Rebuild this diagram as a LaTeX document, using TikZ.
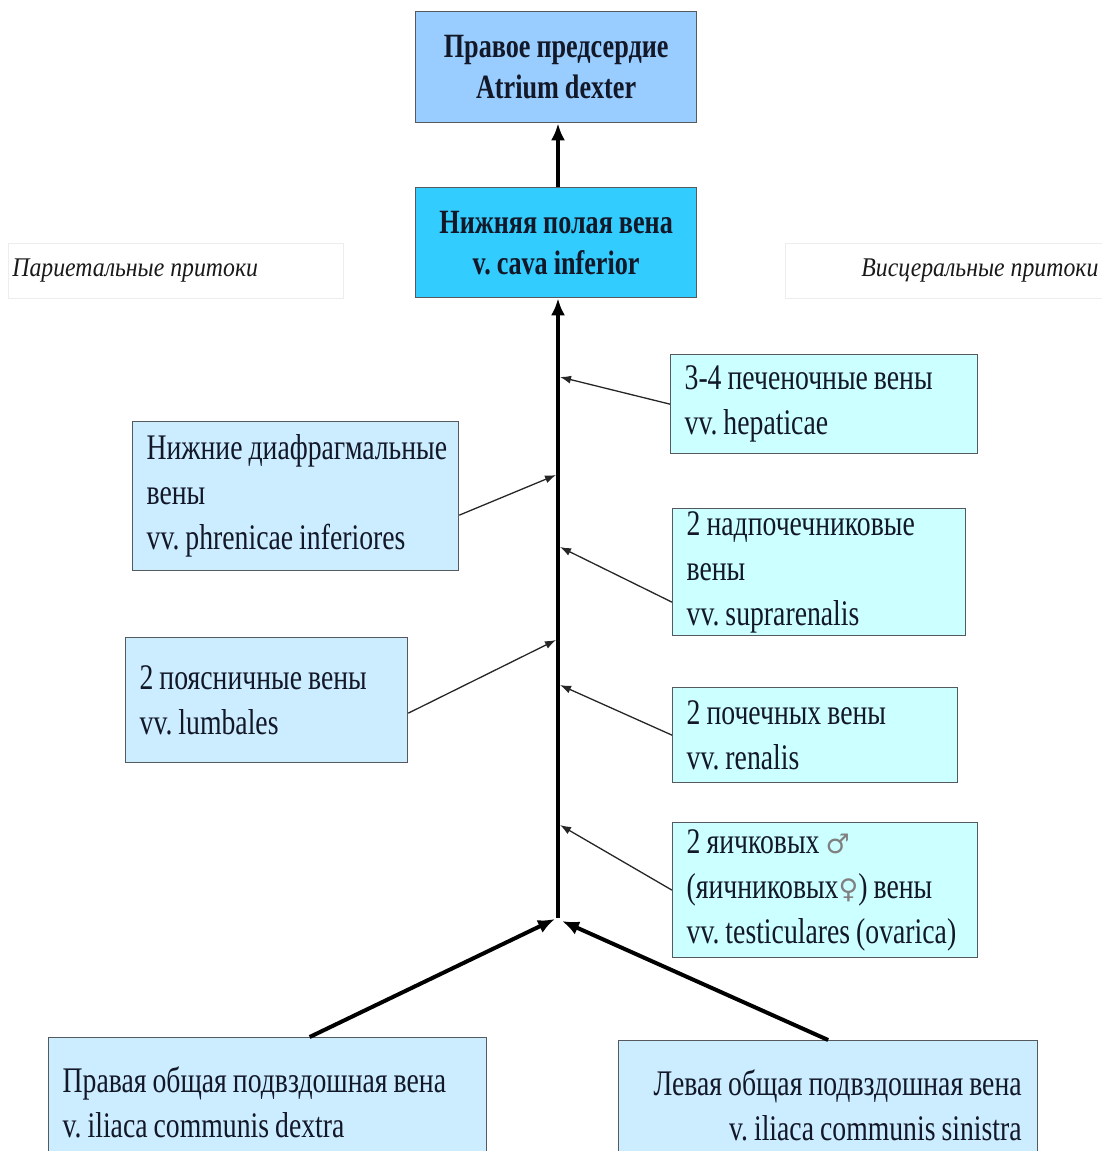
\documentclass[tikz,border=0pt]{standalone}
\usepackage{fontspec}
\setmainfont{Liberation Serif}
\newfontfamily\boxfont{Liberation Serif}[FakeStretch=0.77]
\newfontfamily\capfont{Liberation Serif}[FakeStretch=0.88]
\newfontfamily\gsym{DejaVu Sans}
\usetikzlibrary{arrows.meta}

\definecolor{atrfill}{RGB}{153,204,255}
\definecolor{cavafill}{RGB}{51,204,255}
\definecolor{visfill}{RGB}{204,255,255}
\definecolor{parfill}{RGB}{204,236,255}
\definecolor{inkcol}{RGB}{18,24,40}
\definecolor{framecol}{RGB}{85,90,95}

% one unbreakable line of box text with tight word spacing
\newcommand{\tline}[1]{\mbox{\spaceskip=6pt\xspaceskip=6pt\relax #1}}
\newcommand{\gsign}[1]{{\gsym\fontsize{27}{45}\selectfont\color{black!50}#1}}

\begin{document}
\begin{tikzpicture}[x=1pt,y=-1pt,
  box/.style={draw=framecol, line width=1.3pt, anchor=north west,
    inner xsep=14pt, inner ysep=0pt, align=left, text=inkcol,
    font={\boxfont\fontsize{36}{45}\selectfont}},
  headbox/.style={box, align=center, inner xsep=6pt,
    font={\boxfont\bfseries\fontsize{34}{41}\selectfont}},
  sidelabel/.style={draw=black!7, line width=0.8pt, anchor=north west,
    inner xsep=4pt, inner ysep=0pt, minimum height=55pt, text=black!90,
    font={\capfont\itshape\fontsize{27}{30}\selectfont}},
  trunk/.style={line width=4pt, -{Latex[length=17pt,width=14pt]}},
  feeder/.style={line width=1.3pt, draw=black!85, -{Latex[length=11pt,width=8pt]}}
]
\useasboundingbox (0,0) rectangle (1102,1151);
\clip (0,0) rectangle (1102,1151);

% heart and the main trunk
\node[headbox, fill=atrfill, text width=269pt, minimum height=111pt] (atr) at (415,11)
  {\tline{Правое предсердие}\\\tline{Atrium dexter}};
\node[headbox, fill=cavafill, text width=269pt, minimum height=110pt] (cava) at (415,187)
  {\tline{Нижняя полая вена}\\\tline{v. cava inferior}};

% group captions
\node[sidelabel, text width=327pt, align=left] (par) at (8,243) {\tline{Париетальные притоки}};
\node[sidelabel, text width=309pt, align=right] (vis) at (785,243) {\tline{Висцеральные притоки}};

% visceral tributaries
\node[box, fill=visfill, text width=279pt, minimum height=99pt] (hep) at (670,354)
  {\tline{3-4 печеночные вены}\\\tline{vv. hepaticae}};
\node[box, fill=visfill, text width=265pt, minimum height=127pt] (supr) at (672,508)
  {\tline{2 надпочечниковые}\\\tline{вены}\\\tline{vv. suprarenalis}};
\node[box, fill=visfill, text width=257pt, minimum height=95pt] (ren) at (672,687)
  {\tline{2 почечных вены}\\\tline{vv. renalis}};
\node[box, fill=visfill, text width=277pt, minimum height=135pt] (test) at (672,822)
  {\tline{2 яичковых \gsign{♂}}\\\tline{(яичниковых\gsign{♀}) вены}\\\tline{vv. testiculares (ovarica)}};

% parietal tributaries
\node[box, fill=parfill, text width=298pt, minimum height=149pt] (phr) at (132,421)
  {\tline{Нижние диафрагмальные}\\\tline{вены}\\\tline{vv. phrenicae inferiores}};
\node[box, fill=parfill, text width=254pt, minimum height=125pt] (lum) at (125,637)
  {\tline{2 поясничные вены}\\\tline{vv. lumbales}};

% common iliac veins
\node[box, fill=parfill, text width=410pt, minimum height=130pt] (ril) at (48,1037)
  {\tline{Правая общая подвздошная вена}\\\tline{v. iliaca communis dextra}};
\node[box, fill=parfill, align=right, inner xsep=16pt, text width=387pt, minimum height=130pt] (lil) at (618,1040)
  {\tline{Левая общая подвздошная вена}\\\tline{v. iliaca communis sinistra}};

% points where the tributaries join the trunk
\coordinate (junc) at (558,918);
\coordinate (jl) at (555,919);
\coordinate (jr) at (562,921);
\coordinate (thep) at (560,377);
\coordinate (tphr) at (556,475);
\coordinate (tsupr) at (560,547);
\coordinate (tlum) at (556,640);
\coordinate (tren) at (560,685);
\coordinate (ttest) at (560,825);

% trunk
\draw[trunk] (junc) -- (cava.south -| junc);
\draw[trunk] (cava.north -| junc) -- (atr.south -| junc);
\draw[trunk] ([xshift=42pt]ril.north) -- (jl);
\draw[trunk] (lil.north) -- (jr);

% tributaries
\draw[feeder] (hep.west) -- (thep);
\draw[feeder] ([yshift=-19pt]phr.east) -- (tphr);
\draw[feeder] ([yshift=-30pt]supr.west) -- (tsupr);
\draw[feeder] ([yshift=-13pt]lum.east) -- (tlum);
\draw[feeder] (ren.west) -- (tren);
\draw[feeder] (test.west) -- (ttest);
\end{tikzpicture}
\end{document}
